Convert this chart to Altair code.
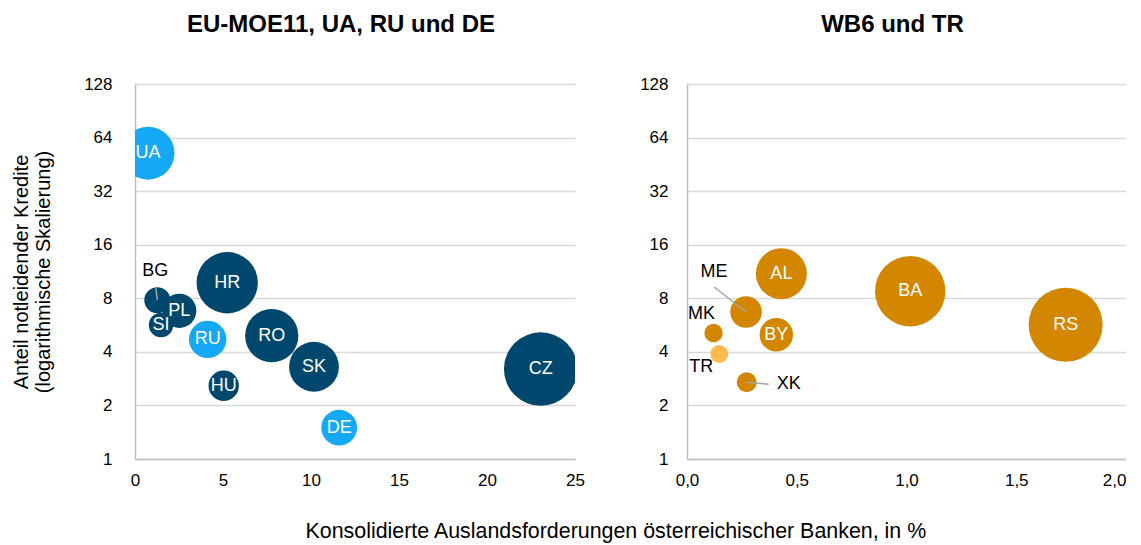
import altair as alt
import pandas as pd

FONT = "Liberation Sans"

# ---- data: left panel (EU-MOE11, UA, RU und DE) ----
left_countries = ["UA", "BG", "PL", "SI", "RU", "HR", "RO", "SK", "HU", "DE", "CZ"]
left_x = [0.74, 1.27, 2.52, 1.48, 4.13, 5.24, 7.77, 10.17, 5.04, 11.6, 23.05]
left_y = [52.3, 7.8, 6.8, 5.66, 4.7, 9.78, 4.93, 3.30, 2.58, 1.50, 3.20]
left_size = [70, 17, 29, 15, 35, 94, 71, 62, 23, 32, 135]
left_group = ["Ref", "EU", "EU", "EU", "Ref", "EU", "EU", "EU", "EU", "Ref", "EU"]
left_inside = [True, False, True, True, True, True, True, True, True, True, True]

# ---- data: right panel (WB6 und TR) ----
right_countries = ["AL", "BA", "RS", "ME", "BY", "MK", "TR", "XK"]
right_x = [0.43, 1.017, 1.725, 0.269, 0.407, 0.121, 0.147, 0.272]
right_y = [11.0, 8.77, 5.68, 6.7, 4.99, 5.1, 3.89, 2.70]
right_size = [65, 124, 137, 25, 28, 8.5, 8, 10]
right_group = ["WB", "WB", "WB", "WB", "WB", "WB", "TR", "WB"]
right_inside = [True, True, True, False, True, False, False, False]

y_ticks = [1, 2, 4, 8, 16, 32, 64, 128]
left_x_ticks = [0, 5, 10, 15, 20, 25]
right_x_ticks = [0, 0.5, 1.0, 1.5, 2.0]

left_df = pd.DataFrame({"c": left_countries, "x": left_x, "y": left_y,
                        "s": left_size, "g": left_group, "inside": left_inside})
right_df = pd.DataFrame({"c": right_countries, "x": right_x, "y": right_y,
                         "s": right_size, "g": right_group, "inside": right_inside})

color_scale = alt.Scale(domain=["EU", "Ref", "WB", "TR"],
                        range=["#00476E", "#14A8F5", "#D38600", "#FFBB4D"])
size_scale = alt.Scale(type="linear", domain=[0, 150], range=[0, 6000])
y_scale = alt.Scale(type="log", base=2, domain=[1, 128], nice=False)


def panel(df, xdomain, xticks, xlabelexpr, xlast, title, ytitle, ylabelpad,
          width, ext_labels, leaders):
    base = alt.Chart(df)
    x_axis_kwargs = dict(values=xticks, title=None, grid=False, labelFlush=False)
    if xlabelexpr:
        x_axis_kwargs["labelExpr"] = xlabelexpr
    if xlast is not None:
        x_axis_kwargs["labelAlign"] = {
            "condition": {"test": f"datum.value == {xlast}", "value": "right"},
            "value": "center",
        }
    x = alt.X("x:Q", scale=alt.Scale(domain=xdomain, nice=False, zero=False),
              axis=alt.Axis(**x_axis_kwargs))
    y_axis_kwargs = dict(values=y_ticks, format="d", grid=True,
                         labelPadding=ylabelpad)
    y_axis_kwargs["title"] = ytitle if ytitle else None
    y = alt.Y("y:Q", scale=y_scale, axis=alt.Axis(**y_axis_kwargs))

    circles = base.mark_circle(opacity=1, clip=True).encode(
        x=x, y=y,
        size=alt.Size("s:Q", scale=size_scale, legend=None),
        color=alt.Color("g:N", scale=color_scale, legend=None),
    )
    inner = base.transform_filter("datum.inside").mark_text(
        color="white", fontSize=18, font=FONT, clip=True
    ).encode(x="x:Q", y="y:Q", text="c:N")

    layers = [circles]
    for c, ox, oy in leaders:
        layers.append(
            base.transform_filter(alt.datum.c == c).mark_rule(
                color="#A6A6A6", strokeWidth=1.5, x2Offset=ox, y2Offset=oy
            ).encode(x="x:Q", y="y:Q", x2="x", y2="y")
        )
    layers.append(inner)
    for c, dx, dy in ext_labels:
        layers.append(
            base.transform_filter(alt.datum.c == c).mark_text(
                color="black", fontSize=18, font=FONT, dx=dx, dy=dy
            ).encode(x="x:Q", y="y:Q", text="c:N")
        )
    return alt.layer(*layers).properties(
        width=width, height=375,
        title=alt.TitleParams(title, fontSize=24, font=FONT, fontWeight="bold",
                              anchor="middle", offset=38, dx=-14, color="black"),
    )


left = panel(
    left_df, [0, 25], left_x_ticks, None, None, "EU-MOE11, UA, RU und DE",
    ["Anteil notleidender Kredite", "(logarithmische Skalierung)"], 23, 440,
    ext_labels=[("BG", -2, -29)],
    leaders=[("BG", -1.5, -12)],
)
right = panel(
    right_df, [0, 2], right_x_ticks,
    "replace(format(datum.value, '.1f'), '.', ',')", 2, "WB6 und TR", None, 19, 439,
    ext_labels=[("ME", -32, -40), ("MK", -12, -19), ("TR", -18, 13), ("XK", 42, 2)],
    leaders=[("ME", -32, -25), ("XK", 22, 2)],
)

chart = alt.hconcat(left, right, spacing=54).properties(
    padding={"left": 3, "right": 0, "top": 5, "bottom": 0},
    title=alt.TitleParams(
        "Konsolidierte Auslandsforderungen österreichischer Banken, in %",
        orient="bottom", anchor="middle", fontSize=21.4, font=FONT,
        fontWeight="normal", offset=33, dx=47, color="black"),
).configure_view(stroke=None).configure_axis(
    labelFont=FONT, labelFontSize=17, labelColor="black",
    titleFont=FONT, titleFontSize=20, titleColor="black", titleFontWeight="normal",
    domainColor="#BFBFBF", domainWidth=1.5,
    gridColor="#D9D9D9", gridWidth=1.5,
    ticks=False,
).configure_axisY(
    titlePadding=30, titleLineHeight=22,
).configure_axisX(
    labelPadding=13,
)

chart.save("out.html", embed_options={"renderer": "svg", "actions": False})
